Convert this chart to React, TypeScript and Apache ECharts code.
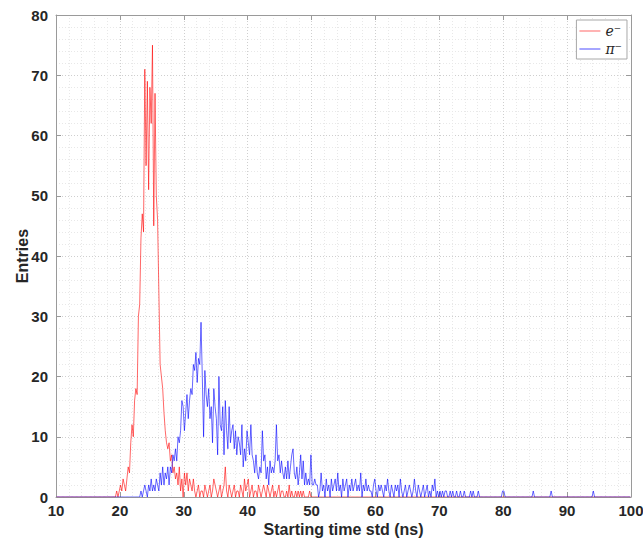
import React, { useEffect, useRef } from "react";
import * as echarts from "echarts";

// Histogram binning (ns)
const X_MIN = 10;
const X_MAX = 100;
const BIN_WIDTH = 0.2;

// e- counts per 0.2 ns bin, first bin starts at 19.0 ns
const electronStart = 19.0;
const electronCounts = [
  0, 0, 1, 0, 1, 2, 1, 3, 2, 1,
  3, 5, 4, 9, 12, 10, 16, 18, 17, 30,
  32, 43, 47, 44, 71, 55, 69, 51, 68, 62,
  75, 45, 67, 50, 46, 34, 22, 20, 18, 14,
  11, 9, 8, 9, 6, 7, 4, 5, 3, 4,
  2, 5, 1, 3, 0, 4, 2, 4, 1, 3,
  2, 1, 3, 1, 0, 1, 2, 0, 1, 1,
  0, 2, 1, 0, 1, 2, 0, 1, 3, 2,
  1, 0, 1, 2, 0, 1, 2, 5, 1, 0,
  2, 1, 0, 1, 2, 0, 1, 1, 0, 2,
  1, 0, 3, 1, 2, 3, 0, 1, 2, 0,
  1, 1, 0, 2, 1, 0, 1, 2, 1, 0,
  2, 1, 0, 1, 2, 0, 1, 0, 1, 2,
  0, 1, 1, 0, 0, 1, 0, 2, 0, 1,
  0, 0, 1, 0, 1, 0, 1, 0, 1, 0,
  0, 0, 0, 1, 0,
];

// pi- counts per 0.2 ns bin, first bin starts at 23.0 ns
const pionStart = 23.0;
const pionCounts = [
  0, 1, 0, 1, 2, 1, 0, 2, 1, 3,
  1, 2, 1, 3, 2, 1, 4, 2, 5, 2,
  4, 3, 5, 2, 5, 4, 7, 6, 8, 6,
  10, 9, 11, 16, 15, 11, 14, 17, 13, 16,
  18, 17, 22, 21, 24, 19, 23, 22, 29, 20,
  10, 21, 17, 15, 18, 13, 15, 9, 18, 15,
  13, 7, 20, 12, 11, 15, 7, 16, 11, 8,
  15, 9, 11, 12, 8, 11, 7, 10, 9, 7,
  12, 5, 8, 6, 11, 9, 7, 12, 7, 6,
  4, 7, 4, 3, 5, 4, 11, 6, 7, 3,
  5, 2, 6, 4, 5, 4, 6, 12, 6, 7,
  4, 6, 4, 3, 5, 3, 6, 3, 5, 7,
  8, 4, 3, 5, 2, 4, 7, 3, 6, 2,
  4, 2, 3, 2, 7, 2, 2, 3, 2, 2,
  0, 1, 4, 1, 2, 0, 3, 1, 2, 0,
  3, 1, 2, 3, 1, 4, 1, 2, 0, 3,
  1, 2, 3, 0, 2, 1, 3, 1, 2, 3,
  1, 2, 1, 4, 0, 2, 1, 3, 1, 2,
  1, 1, 0, 2, 3, 1, 0, 2, 1, 2,
  1, 0, 2, 1, 3, 1, 0, 2, 1, 0,
  2, 1, 2, 0, 3, 1, 0, 1, 2, 0,
  1, 2, 1, 0, 1, 3, 1, 0, 2, 1,
  0, 1, 2, 0, 1, 2, 0, 1, 0, 2,
  1, 3, 0, 1, 0, 1, 0, 1, 0, 1,
  1, 0, 0, 1, 0, 1, 0, 0, 1, 0,
  0, 1, 0, 0, 1,
];

// isolated late pi- entries (bin start, count)
const pionTailBins = [74.8, 75.2, 76.0, 79.8, 80.0, 84.6, 87.4, 94.0];
const pionTailCounts = [1, 1, 1, 1, 1, 1, 1, 1];

const xTicks = [10, 20, 30, 40, 50, 60, 70, 80, 90, 100];
const yTicks = [0, 10, 20, 30, 40, 50, 60, 70, 80];

const seriesNames = ["e-", "pi-"];
const legendLabels: Record<string, string> = { "e-": "e⁻", "pi-": "π⁻" };

function buildHistogram(start: number, counts: number[], extraBins: number[] = [], extraCounts: number[] = []) {
  const nBins = Math.round((X_MAX - X_MIN) / BIN_WIDTH);
  const values = new Array(nBins).fill(0);
  const offset = Math.round((start - X_MIN) / BIN_WIDTH);
  counts.forEach((c, k) => {
    const idx = offset + k;
    if (idx >= 0 && idx < nBins) values[idx] = c;
  });
  extraBins.forEach((b, k) => {
    const idx = Math.round((b - X_MIN) / BIN_WIDTH);
    if (idx >= 0 && idx < nBins) values[idx] = extraCounts[k];
  });
  return values.map((v, i) => [X_MIN + (i + 0.5) * BIN_WIDTH, v]);
}

const AXIS_COLOR = "#9a9a9a";
const TEXT_COLOR = "#262626";
const FONT = "'Liberation Sans', Arial, Helvetica, sans-serif";
const SERIF = "'DejaVu Serif', 'Liberation Serif', serif";

export default function App() {
  const ref = useRef<HTMLDivElement>(null);

  useEffect(() => {
    if (!ref.current) return;
    const chart = echarts.init(ref.current, undefined, { renderer: "svg" });

    const electron = buildHistogram(electronStart, electronCounts);
    const pion = buildHistogram(pionStart, pionCounts, pionTailBins, pionTailCounts);

    const baseAxisLine = { show: true, onZero: false, lineStyle: { color: AXIS_COLOR, width: 1 } };
    const baseTick = { show: true, inside: true, length: 5, lineStyle: { color: AXIS_COLOR, width: 1 } };
    const majorGrid = { show: true, lineStyle: { color: "#cfcfcf", type: [1, 2], width: 1 } };
    const minorGrid = { show: true, lineStyle: { color: "#e8e8e8", type: [1, 2], width: 1 } };
    const tickLabel = {
      fontSize: 15,
      fontWeight: "bold",
      color: TEXT_COLOR,
      fontFamily: FONT,
    };

    chart.setOption({
      animation: false,
      backgroundColor: "#ffffff",
      grid: {
        left: 56,
        right: 12,
        top: 15,
        bottom: 43,
        containLabel: false,
        outerBoundsMode: "none",
      },
      legend: {
        orient: "vertical",
        right: 16,
        top: 20,
        padding: [4, 5, 3, 3],
        itemGap: 4,
        itemWidth: 21,
        itemHeight: 2,
        icon: "rect",
        backgroundColor: "#ffffff",
        borderColor: "#a8a8a8",
        borderWidth: 1,
        data: [
          { name: seriesNames[0], itemStyle: { color: "#ffb3b3" } },
          { name: seriesNames[1], itemStyle: { color: "#a6a6ff" } },
        ],
        formatter: (name: string) => legendLabels[name] ?? name,
        textStyle: {
          color: TEXT_COLOR,
          fontFamily: SERIF,
          fontStyle: "italic",
          fontSize: 14,
          lineHeight: 13,
        },
      },
      xAxis: [
        {
          type: "value",
          min: xTicks[0],
          max: xTicks[xTicks.length - 1],
          interval: 10,
          position: "bottom",
          axisLine: baseAxisLine,
          axisTick: baseTick,
          minorTick: { show: false, splitNumber: 5 },
          splitLine: majorGrid,
          minorSplitLine: minorGrid,
          axisLabel: { ...tickLabel, margin: 6 },
          name: "Starting time std (ns)",
          nameLocation: "middle",
          nameGap: 24,
          nameMoveOverlap: false,
          nameTextStyle: { fontSize: 16, fontWeight: "bold", color: TEXT_COLOR, fontFamily: FONT },
        },
        {
          type: "value",
          min: xTicks[0],
          max: xTicks[xTicks.length - 1],
          interval: 10,
          position: "top",
          axisLine: baseAxisLine,
          axisTick: baseTick,
          splitLine: { show: false },
          axisLabel: { show: false },
        },
      ],
      yAxis: [
        {
          type: "value",
          min: yTicks[0],
          max: yTicks[yTicks.length - 1],
          interval: 10,
          position: "left",
          axisLine: baseAxisLine,
          axisTick: baseTick,
          minorTick: { show: false, splitNumber: 5 },
          splitLine: majorGrid,
          minorSplitLine: minorGrid,
          axisLabel: { ...tickLabel, margin: 8 },
          name: "Entries",
          nameLocation: "middle",
          nameGap: 26,
          nameMoveOverlap: false,
          nameTextStyle: { fontSize: 16, fontWeight: "bold", color: TEXT_COLOR, fontFamily: FONT },
        },
        {
          type: "value",
          min: yTicks[0],
          max: yTicks[yTicks.length - 1],
          interval: 10,
          position: "right",
          axisLine: baseAxisLine,
          axisTick: baseTick,
          splitLine: { show: false },
          axisLabel: { show: false },
        },
      ],
      series: [
        {
          name: seriesNames[0],
          type: "line",
          data: electron,
          showSymbol: false,
          symbol: "none",
          lineStyle: { color: "#ff0000", width: 0.6 },
          itemStyle: { color: "#ff0000" },
          emphasis: { disabled: true },
          z: 2,
        },
        {
          name: seriesNames[1],
          type: "line",
          data: pion,
          showSymbol: false,
          symbol: "none",
          lineStyle: { color: "#0000ff", width: 0.6 },
          itemStyle: { color: "#0000ff" },
          emphasis: { disabled: true },
          z: 3,
        },
      ],
    });

    return () => chart.dispose();
  }, []);

  return (
    <div
      ref={ref}
      style={{ position: "absolute", left: 0, top: 0, width: 643, height: 540 }}
    />
  );
}
